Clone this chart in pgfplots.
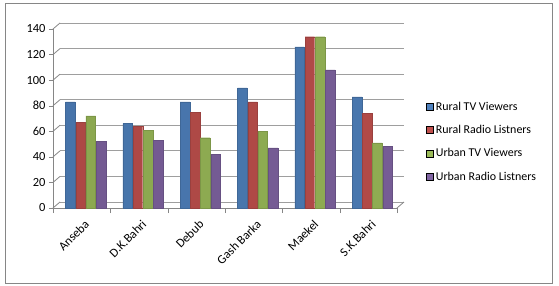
\documentclass[border=0pt]{standalone}
\usepackage{pgfplots}
\pgfplotsset{compat=1.18}
\usepackage{fontspec}
\setmainfont{Carlito}
\definecolor{cA}{HTML}{4F81BD}
\definecolor{cB}{HTML}{C0504D}
\definecolor{cC}{HTML}{9BBB59}
\definecolor{cD}{HTML}{8064A2}
\definecolor{axgray}{HTML}{868686}
\begin{document}
\begin{tikzpicture}
\path[fill=white] (0,0) rectangle (559bp,286bp);
\draw[axgray, line width=0.8bp] (5bp,3bp) rectangle (552bp,283bp);
\begin{axis}[
  at={(53bp,78bp)}, anchor=south west,
  scale only axis, width=344bp, height=179bp,
  xmin=-0.5, xmax=5.5, ymin=0, ymax=140,
  ytick={0,20,...,140},
  xtick={0,...,5},
  xticklabels={Anseba,D.K.Bahri,Debub,Gash Barka,Maekel,S.K.Bahri},
  minor xtick={-0.5,0.5,...,5.5},
  major x tick style={draw=none},
  minor x tick style={axgray},
  y tick style={axgray},
  tick align=outside,
  major tick length=4bp, minor tick length=5bp,
  axis x line*=bottom, axis y line*=left,
  axis line style={axgray, line width=0.8bp, -},
  ymajorgrids,
  grid style={axgray!80, line width=0.8bp, xshift=7bp, yshift=6bp},
  tick label style={font=\fontsize{12.5}{14}\selectfont},
  x tick label style={rotate=45, anchor=north east, yshift=-3bp},
  /pgf/number format/assume math mode=true,
  ybar, bar width=9.6bp,
  legend image code/.code={\fill[#1] (0bp,-3.5bp) rectangle (7bp,3.5bp);},
  legend style={draw=none, fill=none, at={(1.085,0.37)}, anchor=west,
    font=\fontsize{12}{14}\selectfont, row sep=9.5bp, inner sep=0pt},
  legend cell align=left,
  clip=false,
]
\pgfplotsinvokeforeach{0,20,...,140}{\draw[axgray, line width=0.8bp] (axis cs:-0.5,#1) -- ++(7bp,6bp);}
\draw[axgray, line width=0.8bp] (axis cs:5.5,0) -- ++(7bp,6bp);
\addplot[forget plot, bar shift=-11.3bp, draw=cA!80!black, line width=0.3bp, left color=cA!90!black, middle color=cA!55!white, right color=cA!92!black] coordinates {(0,83) (1,66) (2,83) (3,94) (4,126) (5,87)};
\addplot[forget plot, bar shift=-1.1bp, draw=cB!80!black, line width=0.3bp, left color=cB!90!black, middle color=cB!55!white, right color=cB!92!black] coordinates {(0,67) (1,64) (2,75) (3,83) (4,134) (5,74)};
\addplot[forget plot, bar shift=9.1bp, draw=cC!80!black, line width=0.3bp, left color=cC!90!black, middle color=cC!55!white, right color=cC!92!black] coordinates {(0,72) (1,61) (2,55) (3,60) (4,134) (5,51)};
\addplot[forget plot, bar shift=19.3bp, draw=cD!80!black, line width=0.3bp, left color=cD!90!black, middle color=cD!55!white, right color=cD!92!black] coordinates {(0,52) (1,53) (2,42) (3,47) (4,108) (5,48)};
\addlegendimage{fill=cA}
\addlegendimage{fill=cB}
\addlegendimage{fill=cC}
\addlegendimage{fill=cD}
\legend{Rural TV Viewers,Rural Radio Listners,Urban TV Viewers,Urban Radio Listners}
\end{axis}
\end{tikzpicture}
\end{document}
